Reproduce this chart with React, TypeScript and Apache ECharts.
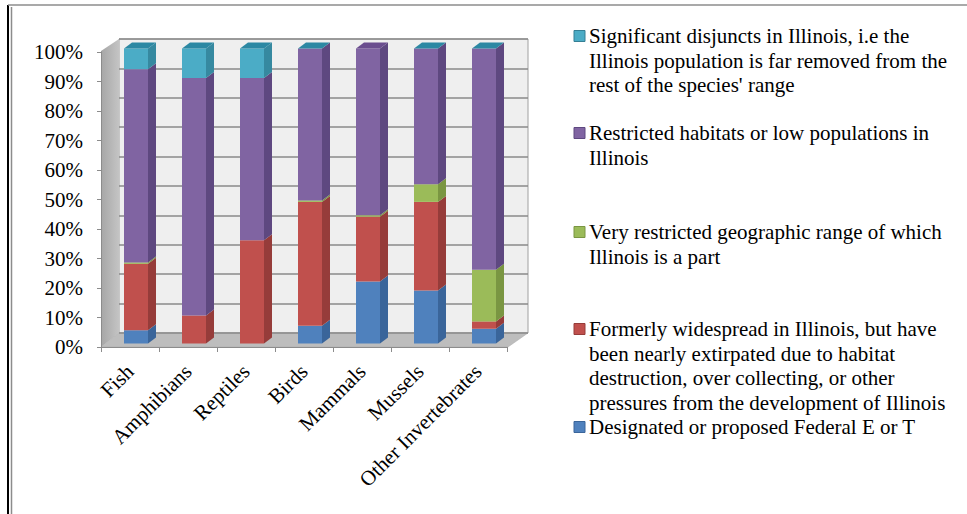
import React, { useEffect, useRef } from "react";
import * as echarts from "echarts";

const categories = ["Fish", "Amphibians", "Reptiles", "Birds", "Mammals", "Mussels", "Other Invertebrates"];
// stacked shares in percent (bottom to top)
const federal = [4.5, 0, 0, 6, 21, 18, 5];
const formerly = [22.5, 9.5, 35, 42, 22, 30, 2.5];
const veryRestricted = [0.5, 0, 0, 0.5, 0.5, 6, 17.5];
const restricted = [65.5, 80.5, 55, 51.5, 56.5, 46, 75];
const disjunct: (number | null)[] = [7, 10, 10, 0, null, 0, 0];
const yTicks = [0, 10, 20, 30, 40, 50, 60, 70, 80, 90, 100];

const seriesDefs = [
  { name: "Designated or proposed Federal E or T", values: federal, color: "#4f81bd", side: "#3a659a", top: "#6a95cc" },
  { name: "Formerly widespread in Illinois, but have been nearly extirpated due to habitat destruction, over collecting, or other pressures from the development of Illinois", values: formerly, color: "#c0504d", side: "#963c3a", top: "#d06a67" },
  { name: "Very restricted geographic range of which Illinois is a part", values: veryRestricted, color: "#9bbb59", side: "#7a9642", top: "#7fa23a" },
  { name: "Restricted habitats or low populations in Illinois", values: restricted, color: "#8064a2", side: "#5e4880", top: "#6a4d8e" },
  { name: "Significant disjuncts in Illinois, i.e the Illinois population is far removed from the rest of the species' range", values: disjunct, color: "#4bacc6", side: "#3689a0", top: "#2c88a3" },
];

const legendItems = [
  { lines: ["Significant disjuncts in Illinois, i.e the", "Illinois population is far removed from the", "rest of the species' range"], color: "#4bacc6", border: "#357f94", y: 36 },
  { lines: ["Restricted habitats or low populations in", "Illinois"], color: "#8064a2", border: "#5e4880", y: 133 },
  { lines: ["Very restricted geographic range of which", "Illinois is a part"], color: "#9bbb59", border: "#7a9642", y: 232 },
  { lines: ["Formerly widespread in Illinois, but have", "been nearly extirpated due to habitat", "destruction, over collecting, or other", "pressures from the development of Illinois"], color: "#c0504d", border: "#963c3a", y: 329 },
  { lines: ["Designated or proposed Federal E or T"], color: "#4f81bd", border: "#3a659a", y: 427 },
];

const FONT = "'Liberation Serif', 'Times New Roman', serif";
const FS = 21;
const BW = 24;
const OFFX = 6;
const OFFY = -3.5;
const DX = 8;
const DY = -6;

export default function App() {
  const ref = useRef<HTMLDivElement>(null);
  useEffect(() => {
    if (!ref.current) return;
    const chart = echarts.init(ref.current, undefined, { renderer: "svg" });

    const cum = categories.map(() => 0);
    const lastIdx = categories.map((_, c) => {
      let li = -1;
      seriesDefs.forEach((s, i) => {
        if (s.values[c] !== null && s.values[c] !== undefined) li = i;
      });
      return li;
    });
    const series: any[] = seriesDefs.map((s, si) => {
      const data: any[] = [];
      categories.forEach((_, c) => {
        const v = s.values[c];
        if (v === null || v === undefined) return;
        const base = cum[c];
        cum[c] += v;
        data.push([c, base, base + v, lastIdx[c] === si ? 1 : 0]);
      });
      return {
        type: "custom",
        name: s.name,
        xAxisIndex: 0,
        yAxisIndex: 0,
        encode: { x: 0, y: 2 },
        data,
        renderItem: (params: any, api: any) => {
          const idx = api.value(0);
          const b = api.value(1);
          const t = api.value(2);
          const isTop = api.value(3);
          const pb = api.coord([idx, b]);
          const pt = api.coord([idx, t]);
          const cx = pb[0] + OFFX;
          const l = cx - BW / 2;
          const r = cx + BW / 2;
          const yb = pb[1] + OFFY;
          const yt = pt[1] + OFFY;
          const children: any[] = [];
          if (yb - yt > 0.01) {
            children.push({ type: "rect", shape: { x: l, y: yt, width: BW, height: yb - yt }, style: { fill: s.color } });
            children.push({
              type: "polygon",
              shape: { points: [[r, yb], [r + DX, yb + DY], [r + DX, yt + DY], [r, yt]] },
              style: { fill: s.side },
            });
          }
          if (isTop) {
            children.push({
              type: "polygon",
              shape: { points: [[l, yt], [l + DX, yt + DY], [r + DX, yt + DY], [r, yt]] },
              style: { fill: s.top },
            });
          }
          return { type: "group", children };
        },
      };
    });

    const graphics: any[] = [
      { type: "line", shape: { x1: 8, y1: 5, x2: 8, y2: 514 }, style: { stroke: "#000", lineWidth: 2 } },
      { type: "line", shape: { x1: 11.5, y1: 7, x2: 11.5, y2: 514 }, style: { stroke: "#8c8c8c", lineWidth: 1.5 } },
      { type: "line", shape: { x1: 8, y1: 5, x2: 967, y2: 5 }, style: { stroke: "#8c8c8c", lineWidth: 1.5 } },
      {
        type: "polygon",
        shape: { points: [[101, 51], [119, 39], [119, 333], [101, 347]] },
        style: {
          fill: new echarts.graphic.LinearGradient(0, 0, 1, 0, [
            { offset: 0, color: "#a6a6a6" },
            { offset: 1, color: "#c4c4c4" },
          ]),
        },
      },
      {
        type: "polygon",
        shape: { points: [[101, 347], [119, 333], [528, 333], [508, 347]] },
        style: { fill: "#bdbdbd", stroke: "#a8a8a8", lineWidth: 0.5 },
      },
    ];
    legendItems.forEach((it) => {
      graphics.push({
        type: "rect",
        shape: { x: 574, y: it.y - 5.5, width: 11, height: 11 },
        style: { fill: it.color, stroke: it.border, lineWidth: 1 },
      });
      graphics.push({
        type: "text",
        x: 589,
        y: it.y - 12.25,
        style: {
          text: it.lines.join("\n"),
          fontFamily: FONT,
          fontSize: FS,
          fill: "#000",
          lineHeight: 24.5,
          verticalAlign: "top",
          align: "left",
        },
      });
    });

    chart.setOption({
      animation: false,
      backgroundColor: "#fff",
      textStyle: { fontFamily: FONT },
      grid: [
        { left: 101, top: 52, width: 406, height: 295, show: false },
        { left: 119, top: 39, width: 409, height: 294, show: true, backgroundColor: "#efefef", borderColor: "#a0a0a0", borderWidth: 1 },
      ],
      xAxis: [
        {
          type: "category",
          gridIndex: 0,
          data: categories,
          boundaryGap: true,
          axisLine: { show: true, lineStyle: { color: "#8c8c8c", width: 1 } },
          axisTick: { show: true, length: 5, lineStyle: { color: "#8c8c8c" } },
          axisLabel: { rotate: 45, interval: 0, fontSize: FS, fontFamily: FONT, color: "#000", margin: 21 },
        },
        { type: "category", gridIndex: 1, data: categories, show: false },
      ],
      yAxis: [
        {
          type: "value",
          gridIndex: 0,
          min: 0,
          max: 100,
          interval: 10,
          axisLine: { show: true, lineStyle: { color: "#8c8c8c" } },
          axisTick: { show: true, inside: false, length: 4, lineStyle: { color: "#8c8c8c" } },
          splitLine: { show: false },
          axisLabel: {
            fontSize: FS,
            fontFamily: FONT,
            color: "#000",
            margin: 18,
            formatter: (v: number) => (yTicks.includes(v) ? `${v}%` : ""),
          },
        },
        {
          type: "value",
          gridIndex: 1,
          min: 0,
          max: 100,
          interval: 10,
          axisLine: { show: false },
          axisTick: { show: false },
          axisLabel: { show: false },
          splitLine: { show: true, lineStyle: { color: "#8a8a8a", width: 1.5 } },
        },
      ],
      graphic: graphics,
      series,
    });
    return () => chart.dispose();
  }, []);
  return <div ref={ref} style={{ position: "fixed", left: 0, top: 0, width: 967, height: 514 }} />;
}
